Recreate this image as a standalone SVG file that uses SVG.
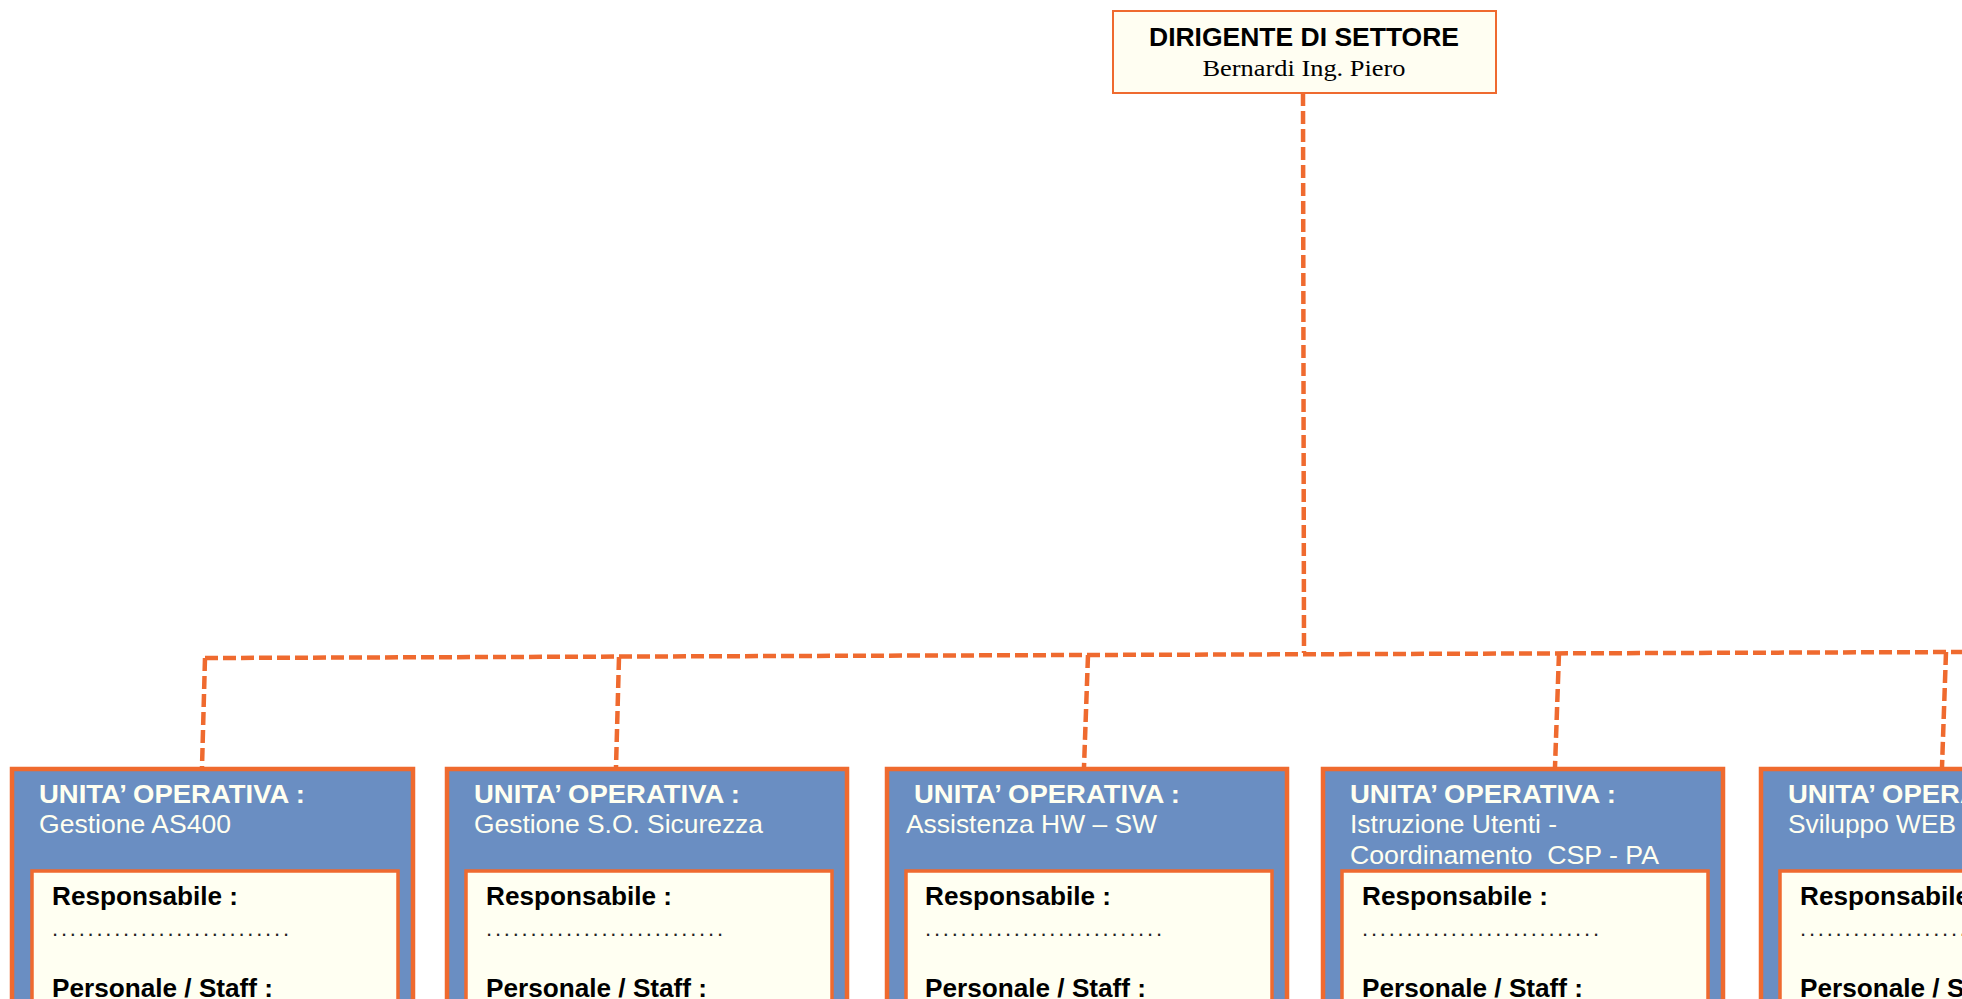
<svg xmlns="http://www.w3.org/2000/svg" width="1962" height="999" viewBox="0 0 1962 999">
<style>
.outer{fill:#6A8EC2;stroke:#EF6A2F;stroke-width:4.5}
.inner{fill:#FFFFF2;stroke:#EF6A2F;stroke-width:3.5}
.head{fill:#FFFEF2;stroke:#EF6A2F;stroke-width:2}
.conn{fill:none;stroke:#EF6A2F;stroke-width:4.5;stroke-dasharray:13 5}
.t{font-family:"Liberation Sans",Arial,sans-serif;font-size:25px;white-space:pre}
.tb{font-weight:bold}
.w{fill:#FFFFF0}
.k{fill:#000000}
.dots{font-family:"Liberation Sans",Arial,sans-serif;font-size:22px;fill:#222}
.ser{font-family:"Liberation Serif","Times New Roman",serif;font-size:24px;fill:#000}
</style>
<rect width="1962" height="999" fill="#FFFFFF"/>
<g id="connectors">
<path class="conn" d="M1303,93 L1304,653"/>
<path class="conn" d="M205,658 L1965,652"/>
<path class="conn" d="M205,658 L202,767"/>
<path class="conn" d="M619,657 L616,767"/>
<path class="conn" d="M1088,655 L1084,767"/>
<path class="conn" d="M1559,653 L1555,767"/>
<path class="conn" d="M1946,652 L1942,767"/>
</g>
<g id="dirigente">
<rect class="head" x="1113" y="11" width="383" height="82"/>
<text class="t tb k" x="1304" y="46" text-anchor="middle" textLength="310" lengthAdjust="spacingAndGlyphs" style="font-size:26px">DIRIGENTE DI SETTORE</text>
<text class="ser" x="1304" y="76" text-anchor="middle" textLength="203" lengthAdjust="spacingAndGlyphs">Bernardi Ing. Piero</text>
</g>
<g id="uo1">
<rect class="outer" x="12" y="769" width="401" height="300"/>
<rect class="inner" x="32" y="871" width="366" height="200"/>
<text class="t tb w" x="39" y="803" textLength="266" lengthAdjust="spacingAndGlyphs">UNITA’ OPERATIVA :</text>
<text class="t w" x="39" y="833" textLength="192" lengthAdjust="spacingAndGlyphs">Gestione AS400</text>
<text class="t tb k" x="52" y="905" textLength="186" lengthAdjust="spacingAndGlyphs">Responsabile :</text>
<text class="dots" x="52" y="936" textLength="237" lengthAdjust="spacing">...........................</text>
<text class="t tb k" x="52" y="997" textLength="221" lengthAdjust="spacingAndGlyphs">Personale / Staff :</text>
</g>
<g id="uo2">
<rect class="outer" x="447" y="769" width="400" height="300"/>
<rect class="inner" x="466" y="871" width="366" height="200"/>
<text class="t tb w" x="474" y="803" textLength="266" lengthAdjust="spacingAndGlyphs">UNITA’ OPERATIVA :</text>
<text class="t w" x="474" y="833" textLength="289" lengthAdjust="spacingAndGlyphs">Gestione S.O. Sicurezza</text>
<text class="t tb k" x="486" y="905" textLength="186" lengthAdjust="spacingAndGlyphs">Responsabile :</text>
<text class="dots" x="486" y="936" textLength="237" lengthAdjust="spacing">...........................</text>
<text class="t tb k" x="486" y="997" textLength="221" lengthAdjust="spacingAndGlyphs">Personale / Staff :</text>
</g>
<g id="uo3">
<rect class="outer" x="887" y="769" width="400" height="300"/>
<rect class="inner" x="906" y="871" width="366" height="200"/>
<text class="t tb w" x="914" y="803" textLength="266" lengthAdjust="spacingAndGlyphs">UNITA’ OPERATIVA :</text>
<text class="t w" x="906" y="833" textLength="251" lengthAdjust="spacingAndGlyphs">Assistenza HW – SW</text>
<text class="t tb k" x="925" y="905" textLength="186" lengthAdjust="spacingAndGlyphs">Responsabile :</text>
<text class="dots" x="925" y="936" textLength="237" lengthAdjust="spacing">...........................</text>
<text class="t tb k" x="925" y="997" textLength="221" lengthAdjust="spacingAndGlyphs">Personale / Staff :</text>
</g>
<g id="uo4">
<rect class="outer" x="1323" y="769" width="400" height="300"/>
<rect class="inner" x="1342" y="871" width="366" height="200"/>
<text class="t tb w" x="1350" y="803" textLength="266" lengthAdjust="spacingAndGlyphs">UNITA’ OPERATIVA :</text>
<text class="t w" x="1350" y="833" textLength="207" lengthAdjust="spacingAndGlyphs">Istruzione Utenti -</text>
<text class="t w" x="1350" y="864" textLength="309" lengthAdjust="spacingAndGlyphs">Coordinamento  CSP - PA</text>
<text class="t tb k" x="1362" y="905" textLength="186" lengthAdjust="spacingAndGlyphs">Responsabile :</text>
<text class="dots" x="1362" y="936" textLength="237" lengthAdjust="spacing">...........................</text>
<text class="t tb k" x="1362" y="997" textLength="221" lengthAdjust="spacingAndGlyphs">Personale / Staff :</text>
</g>
<g id="uo5">
<rect class="outer" x="1761" y="769" width="400" height="300"/>
<rect class="inner" x="1780" y="871" width="366" height="200"/>
<text class="t tb w" x="1788" y="803" textLength="266" lengthAdjust="spacingAndGlyphs">UNITA’ OPERATIVA :</text>
<text class="t w" x="1788" y="833" textLength="168" lengthAdjust="spacingAndGlyphs">Sviluppo WEB</text>
<text class="t tb k" x="1800" y="905" textLength="186" lengthAdjust="spacingAndGlyphs">Responsabile :</text>
<text class="dots" x="1800" y="936" textLength="237" lengthAdjust="spacing">...........................</text>
<text class="t tb k" x="1800" y="997" textLength="221" lengthAdjust="spacingAndGlyphs">Personale / Staff :</text>
</g>
</svg>
